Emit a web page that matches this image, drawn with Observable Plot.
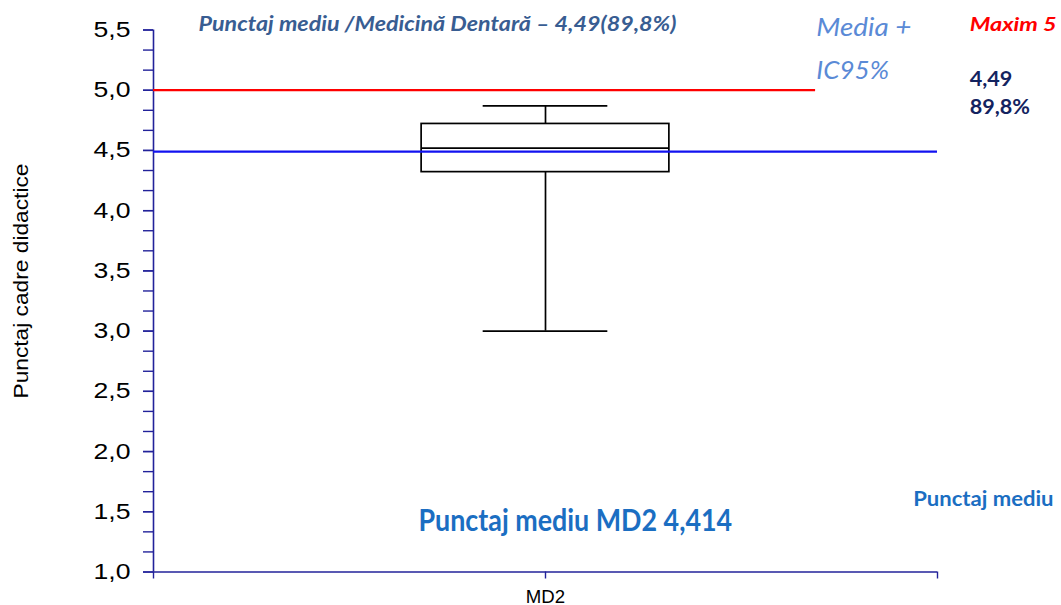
<!DOCTYPE html>
<html><head><meta charset="utf-8">
<script src="https://cdn.jsdelivr.net/npm/d3@7"></script>
<script src="https://cdn.jsdelivr.net/npm/@observablehq/plot@0.6"></script>
<style>html,body{margin:0;padding:0;background:#fff;} svg{display:block}</style>
</head><body><div id="chart"></div>
<script>
// ---- data ----
const categories = ["MD2"];
const whiskerLow = [3.0];
const q1 = [4.32];
const median = [4.52];
const q3 = [4.72];
const whiskerHigh = [4.87];
const referenceMean = 4.49;
const maxScore = 5;
const majorTicks = [1.0, 1.5, 2.0, 2.5, 3.0, 3.5, 4.0, 4.5, 5.0, 5.5];
const yTickLabels = ["1,0", "1,5", "2,0", "2,5", "3,0", "3,5", "4,0", "4,5", "5,0", "5,5"];
const yLabel = "Punctaj cadre didactice";
const annotationTexts = [
  "Punctaj mediu /Medicină Dentară – 4,49(89,8%)",
  "Media +",
  "IC95%",
  "Maxim 5",
  "4,49",
  "89,8%",
  "Punctaj mediu",
  "Punctaj mediu MD2 4,414"
];

// ---- layout / style (not data) ----
const annotationLayout = [
  {x: 0.1148, y: 5.492, fill: "#385d92", size: 21, weight: "bold", style: "italic", width: 478},
  {x: 1.691, y: 5.449, fill: "#5a8ad6", size: 26, weight: "normal", style: "italic", width: 95},
  {x: 1.691, y: 5.095, fill: "#5a8ad6", size: 26, weight: "normal", style: "italic", width: 72.6},
  {x: 2.082, y: 5.488, fill: "#ff0000", size: 19, weight: "bold", style: "italic", width: 87},
  {x: 2.082, y: 5.039, fill: "#13235f", size: 20, weight: "bold", style: "normal", width: 42.7},
  {x: 2.082, y: 4.804, fill: "#13235f", size: 20, weight: "bold", style: "normal", width: 60.3},
  {x: 1.938, y: 1.552, fill: "#1b6ec2", size: 20, weight: "bold", style: "normal", width: 140.3},
  {x: 0.676, y: 1.339, fill: "#1b6ec2", size: 30, weight: "bold", style: "normal", width: 313.7}
];
const navy = "#22229a";
const boxHalf = 0.316, capHalf = 0.159, redEnd = 1.689;

const box = categories.map((c, i) => ({
  pos: i + 1, lo: whiskerLow[i], q1: q1[i], med: median[i], q3: q3[i], hi: whiskerHigh[i]
}));
const xTicks = [0, ...categories.map((c, i) => i + 1), categories.length + 1];
const minorTicks = d3.range(0, 28).map(i => majorTicks[0] + i / 6);

const annotationMarks = annotationTexts.map((t, i) => {
  const a = annotationLayout[i];
  return Plot.text([t], {
    x: () => a.x, y: () => a.y, text: d => d,
    textAnchor: "start", lineAnchor: "bottom",
    fill: a.fill, fontSize: a.size, fontWeight: a.weight, fontStyle: a.style,
    fontFamily: "Lato, 'Open Sans', sans-serif"
  });
});

const plot = Plot.plot({
  width: 1061, height: 605,
  marginLeft: 153, marginRight: 124, marginTop: 29.5, marginBottom: 33.5,
  x: {type: "linear", domain: [0, categories.length + 1], axis: null, label: null},
  y: {domain: [1, 5.5], axis: null, label: null},
  style: {fontFamily: "'Liberation Sans', Arial, sans-serif", background: "#fff", overflow: "visible"},
  marks: [
    Plot.axisY(minorTicks, {tickSize: 10, tickFormat: () => "", stroke: navy, strokeWidth: 1.4}),
    Plot.axisY(majorTicks, {tickSize: 10, tickPadding: 13, tickFormat: d => yTickLabels[majorTicks.indexOf(d)],
      fontSize: 22, stroke: navy, fill: "black", strokeWidth: 1.4}),
    Plot.axisX(xTicks, {tickSize: 7, tickPadding: 10.5, tickFormat: d => categories[d - 1] ?? "",
      fontSize: 19, stroke: navy, fill: "black", strokeWidth: 1.4}),
    Plot.ruleX([0], {stroke: navy, strokeWidth: 1.6}),
    Plot.ruleY([1], {stroke: navy, strokeWidth: 1.6}),
    Plot.ruleY([maxScore], {x1: 0, x2: redEnd, stroke: "#ff0000", strokeWidth: 2.2}),
    Plot.rect(box, {x1: d => d.pos - boxHalf, x2: d => d.pos + boxHalf, y1: "q1", y2: "q3",
      fill: "none", stroke: "black", strokeWidth: 1.7}),
    Plot.ruleY(box, {y: "med", x1: d => d.pos - boxHalf, x2: d => d.pos + boxHalf, stroke: "black", strokeWidth: 1.7}),
    Plot.ruleX(box, {x: "pos", y1: "q3", y2: "hi", stroke: "black", strokeWidth: 1.7}),
    Plot.ruleX(box, {x: "pos", y1: "lo", y2: "q1", stroke: "black", strokeWidth: 1.7}),
    Plot.ruleY(box, {y: "hi", x1: d => d.pos - capHalf, x2: d => d.pos + capHalf, stroke: "black", strokeWidth: 1.7}),
    Plot.ruleY(box, {y: "lo", x1: d => d.pos - capHalf, x2: d => d.pos + capHalf, stroke: "black", strokeWidth: 1.7}),
    Plot.ruleY([referenceMean], {stroke: "#1212f0", strokeWidth: 2.2}),
    Plot.text([yLabel], {x: () => -0.3214, y: () => 3.416, text: d => d, rotate: -90,
      textAnchor: "middle", lineAnchor: "bottom", fontSize: 21, fill: "black"}),
    ...annotationMarks
  ]
});

const fitWidths = new Map([
  ...annotationTexts.map((t, i) => [t, annotationLayout[i].width]),
  ...yTickLabels.map(t => [t, 37]),
  ["MD2", 39.3], [yLabel, 235]
]);
plot.querySelectorAll("text").forEach(t => {
  const w = fitWidths.get(t.textContent);
  if (w) { t.setAttribute("textLength", w); t.setAttribute("lengthAdjust", "spacingAndGlyphs"); }
});
document.getElementById("chart").appendChild(plot);
</script>
</body></html>
